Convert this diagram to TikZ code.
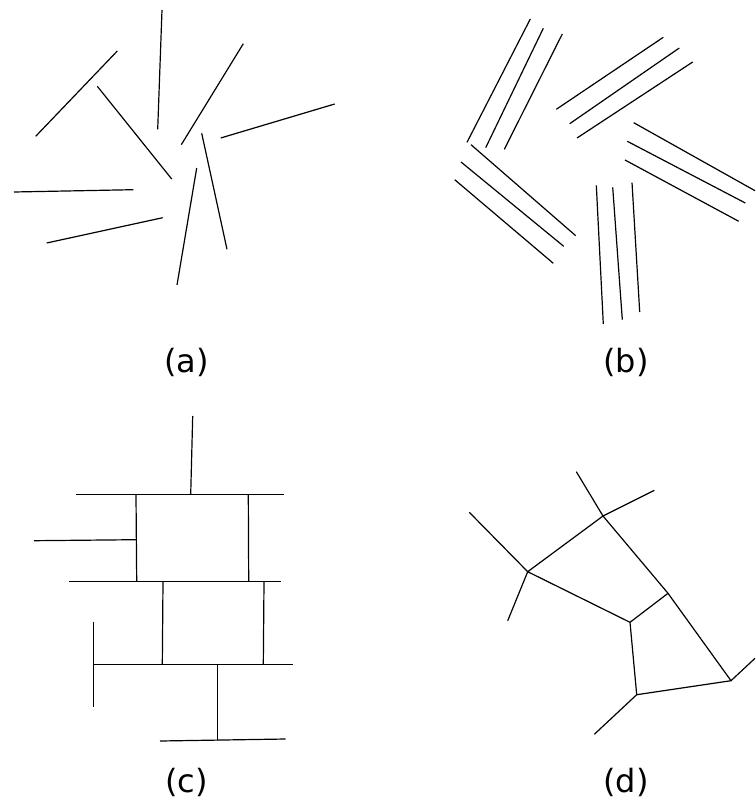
\documentclass[tikz,border=0pt]{standalone}
\usepackage{fontspec}
\setmainfont{DejaVu Sans}
\usepackage{tikz}
\tikzset{seg/.style={line width=1.2pt}}
\tikzset{lbl/.style={anchor=base, font=\fontsize{32}{38}\selectfont}}

\begin{document}
\begin{tikzpicture}[x=1pt, y=-1pt]
\useasboundingbox (0,0) rectangle (755,799);

% (a) loose sticks
\draw[seg] (117.3,51)--(35.7,136.3);
\draw[seg] (162,10)--(157.7,129.3);
\draw[seg] (243.3,43.7)--(181.3,144.7);
\draw[seg] (334.7,104)--(220.7,138);
\draw[seg] (97.3,86.3)--(171.7,179);
\draw[seg] (201.7,133.3)--(227,249.3);
\draw[seg] (14,192)--(133.3,189.7);
\draw[seg] (46.7,243)--(162.7,217.7);
\draw[seg] (196.7,168)--(177,285);

% (b) bundles of three
\draw[seg] (530.3,19)--(467,142.3);
\draw[seg] (543.3,28.3)--(485.7,147.7);
\draw[seg] (562.3,34)--(504.3,149.3);

\draw[seg] (663.3,37.3)--(556.3,109.3);
\draw[seg] (679.3,48)--(569.7,123.7);
\draw[seg] (692.7,62)--(577,138);

\draw[seg] (633.7,122.7)--(755,190.7);
\draw[seg] (627.3,141.3)--(745.3,203);
\draw[seg] (625,160)--(738.7,221.3);

\draw[seg] (596.3,185.3)--(603.3,324);
\draw[seg] (612.7,187.3)--(622.3,319.7);
\draw[seg] (632,182.7)--(639.7,312);

\draw[seg] (471,144.7)--(575.7,235.7);
\draw[seg] (461,162)--(563.7,246.3);
\draw[seg] (454.7,179.7)--(553.3,263.3);

% (c) brick wall
\coordinate (t1) at (75.7,494.7);
\coordinate (t2) at (283.7,494.7);
\coordinate (ts) at (190.7,494.7);
\coordinate (tl) at (136,494.7);
\coordinate (tr) at (248.3,494.7);
\coordinate (m1) at (69,581.7);
\coordinate (m2) at (281,581.7);
\coordinate (ml) at (136.7,581.7);
\coordinate (mr) at (248.7,581.7);
\coordinate (ml2) at (163,581.7);
\coordinate (mr2) at (264,581.7);
\coordinate (b1) at (94,664.7);
\coordinate (b2) at (293,664.7);
\coordinate (bl) at (162.3,664.7);
\coordinate (br) at (263.3,664.7);
\coordinate (bs) at (217.7,664.7);
\coordinate (sl) at (136.3,539.7);

\draw[seg] (t1)--(t2);
\draw[seg] (m1)--(m2);
\draw[seg] (b1)--(b2);
\draw[seg] (tl)--(ml);
\draw[seg] (tr)--(mr);
\draw[seg] (ml2)--(bl);
\draw[seg] (mr2)--(br);
\draw[seg] (ts)--(192.7,416);
\draw[seg] (sl)--(34,540.7);
\draw[seg] (93.7,621.7)--(93.7,707.3);
\draw[seg] (bs)--(217.7,740);
\draw[seg] (160,741)--(285.7,739);

% (d) cells
\coordinate (A) at (527.7,571.7);
\coordinate (B) at (603,516);
\coordinate (C) at (668,593.3);
\coordinate (D) at (630,622.3);
\coordinate (E) at (636.7,694.7);
\coordinate (F) at (731,680.7);

\draw[seg] (A)--(B)--(C)--(F)--(E)--(D)--(A);
\draw[seg] (D)--(C);
\draw[seg] (A)--(469.3,512.3);
\draw[seg] (A)--(507.7,620.7);
\draw[seg] (B)--(576.3,471.7);
\draw[seg] (B)--(654.3,490.3);
\draw[seg] (E)--(594.3,734.3);
\draw[seg] (F)--(755,658.3);

\node[lbl] (la) at (186.5,372.5) {(a)};
\node[lbl] (lb) at (626,372.5) {(b)};
\node[lbl] (lc) at (186.5,792.5) {(c)};
\node[lbl] (ld) at (626,792.5) {(d)};
\end{tikzpicture}
\end{document}
